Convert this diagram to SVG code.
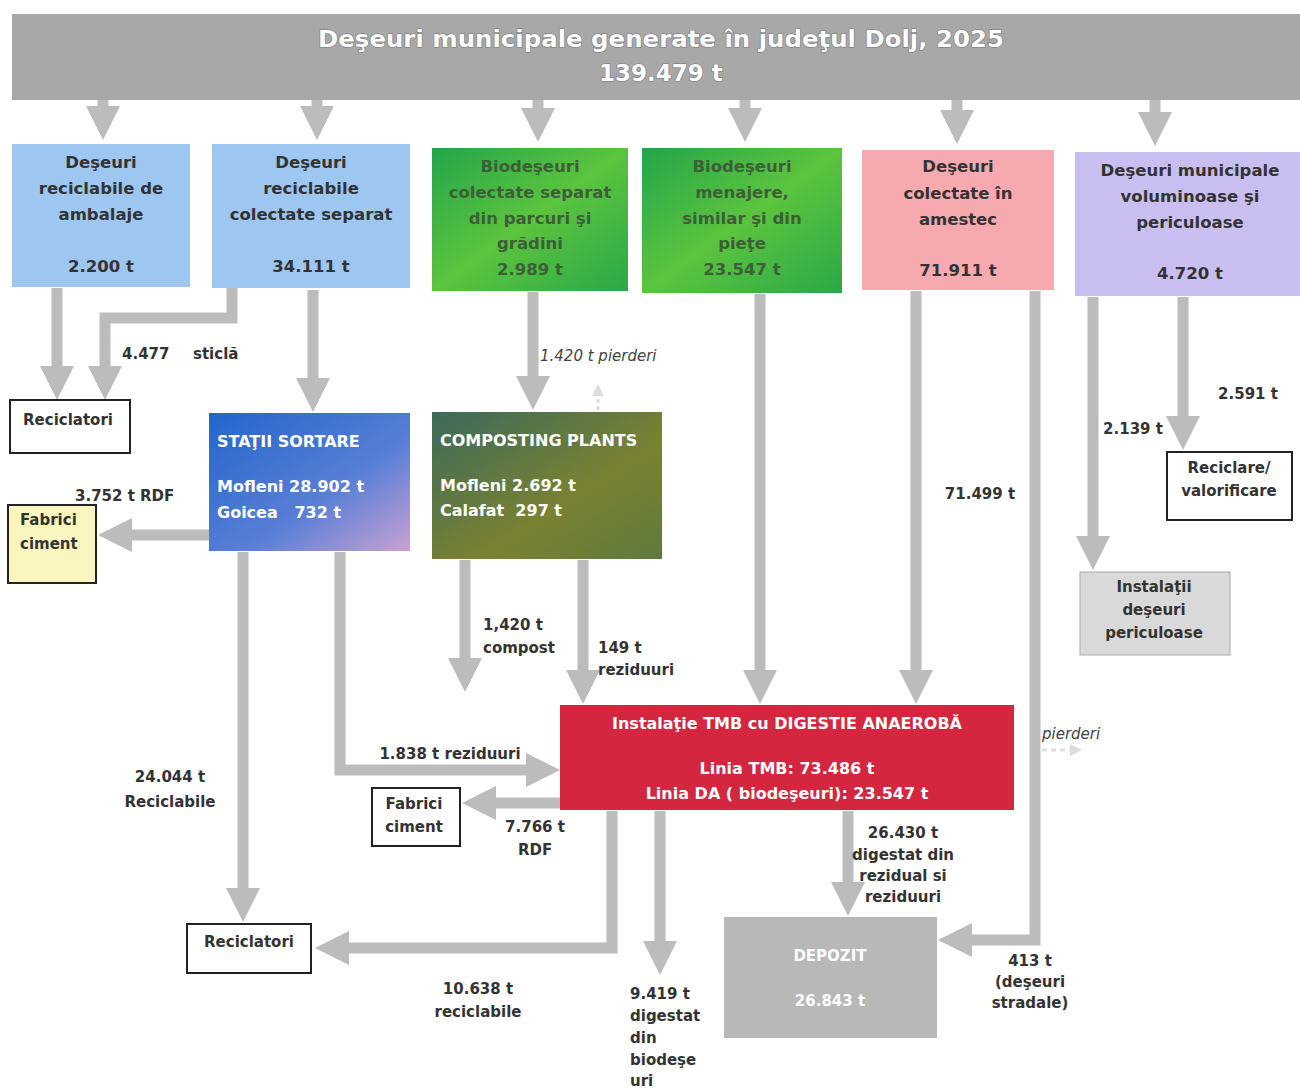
<svg xmlns="http://www.w3.org/2000/svg" width="1300" height="1092" viewBox="0 0 1300 1092">
<style>
text{font-family:"DejaVu Sans","Liberation Sans",sans-serif;font-weight:bold}
.bt{font-size:16.5px;fill:#333;text-anchor:middle}
.gt{font-size:16.5px;fill:#3d5f38;text-anchor:middle}
.lb{font-size:15px;fill:#333}
.wt{font-size:16px;fill:#fff}
.it{font-size:15px;fill:#444;font-style:italic;font-weight:normal}
.ar{fill:none;stroke:#bcbcbc;stroke-width:11;marker-end:url(#ah)}
.box{stroke:#222;stroke-width:2;fill:#fff}
.hd{font-size:23px;fill:#fff;stroke:#777;stroke-width:1.2;paint-order:stroke}
</style>
<defs>
<marker id="ah" markerUnits="userSpaceOnUse" markerWidth="34" markerHeight="34" viewBox="0 0 34 34" refX="10" refY="17" orient="auto">
<path d="M0,0 L34,17 L0,34 z" fill="#bcbcbc"/>
</marker>
<marker id="ahs" markerUnits="userSpaceOnUse" markerWidth="12" markerHeight="12" viewBox="0 0 12 12" refX="2" refY="6" orient="auto">
<path d="M0,0 L12,6 L0,12 z" fill="#ddd"/>
</marker>
<linearGradient id="g1" x1="0" y1="0" x2="1" y2="1"><stop offset="0" stop-color="#23a54a"/><stop offset="0.5" stop-color="#5cc43e"/><stop offset="1" stop-color="#2aa848"/></linearGradient>
<linearGradient id="gs" x1="0" y1="0" x2="1" y2="1"><stop offset="0" stop-color="#2266cc"/><stop offset="0.6" stop-color="#5a7fd6"/><stop offset="1" stop-color="#c9a2d2"/></linearGradient>
<linearGradient id="gc" x1="0" y1="0" x2="1" y2="1"><stop offset="0" stop-color="#3c6a5a"/><stop offset="0.6" stop-color="#7a8232"/><stop offset="1" stop-color="#5e7a3e"/></linearGradient>
</defs>

<g id="header">
<rect x="12" y="14" width="1288" height="86" fill="#a8a8a8"/>
<text class="hd" x="661" y="47" text-anchor="middle" textLength="686" lengthAdjust="spacingAndGlyphs">Deşeuri municipale generate în judeţul Dolj, 2025</text>
<text class="hd" x="661" y="81" text-anchor="middle">139.479  t</text>
</g>

<g id="connectors">
<path class="ar" d="M103,100 V116"/>
<path class="ar" d="M317,100 V116"/>
<path class="ar" d="M538,100 V118"/>
<path class="ar" d="M745,100 V118"/>
<path class="ar" d="M957,100 V120"/>
<path class="ar" d="M1155,100 V122"/>
<path class="ar" d="M57,288 V376"/>
<path class="ar" d="M232,288 V318 H105 V376"/>
<path class="ar" d="M313,290 V388"/>
<path class="ar" d="M209,535 H122"/>
<path class="ar" d="M243,552 V898"/>
<path class="ar" d="M340,552 V770 H536"/>
<path class="ar" d="M533,292 V386"/>
<path d="M598,410 V394" stroke="#ddd" stroke-width="3" stroke-dasharray="4,3" fill="none" marker-end="url(#ahs)"/>
<path class="ar" d="M465,560 V668"/>
<path class="ar" d="M583,560 V680"/>
<path class="ar" d="M760,294 V680"/>
<path class="ar" d="M916,291 V680"/>
<path class="ar" d="M1035,291 V940 H962"/>
<path d="M1042,750 H1072" stroke="#ddd" stroke-width="3" stroke-dasharray="5,4" fill="none" marker-end="url(#ahs)"/>
<path class="ar" d="M1093,297 V546"/>
<path class="ar" d="M1183,297 V426"/>
<path class="ar" d="M560,803 H486"/>
<path class="ar" d="M612,811 V948 H339"/>
<path class="ar" d="M660,811 V951"/>
<path class="ar" d="M848,811 V892"/>
</g>

<g id="n-ambalaje">
<rect x="12" y="144" width="178" height="143" fill="#9dc6f0"/>
<text class="bt" x="101" y="168">Deşeuri</text>
<text class="bt" x="101" y="194">reciclabile de</text>
<text class="bt" x="101" y="220">ambalaje</text>
<text class="bt" x="101" y="272">2.200 t</text>
</g>
<g id="n-reciclabile">
<rect x="212" y="144" width="198" height="144" fill="#9dc6f0"/>
<text class="bt" x="311" y="168">Deşeuri</text>
<text class="bt" x="311" y="194">reciclabile</text>
<text class="bt" x="311" y="220">colectate separat</text>
<text class="bt" x="311" y="272">34.111 t</text>
</g>
<g id="n-bio-parcuri">
<rect x="432" y="148" width="196" height="143" fill="url(#g1)"/>
<text class="gt" x="530" y="172">Biodeşeuri</text>
<text class="gt" x="530" y="198">colectate separat</text>
<text class="gt" x="530" y="224">din parcuri şi</text>
<text class="gt" x="530" y="249">grădini</text>
<text class="gt" x="530" y="275">2.989  t</text>
</g>
<g id="n-bio-menajere">
<rect x="642" y="148" width="200" height="145" fill="url(#g1)"/>
<text class="gt" x="742" y="172">Biodeşeuri</text>
<text class="gt" x="742" y="198">menajere,</text>
<text class="gt" x="742" y="224">similar şi din</text>
<text class="gt" x="742" y="249">pieţe</text>
<text class="gt" x="742" y="275">23.547  t</text>
</g>
<g id="n-amestec">
<rect x="862" y="150" width="192" height="140" fill="#f6a9ae"/>
<text class="bt" x="958" y="172">Deşeuri</text>
<text class="bt" x="958" y="199">colectate în</text>
<text class="bt" x="958" y="225">amestec</text>
<text class="bt" x="958" y="276">71.911 t</text>
</g>
<g id="n-voluminoase">
<rect x="1075" y="152" width="225" height="144" fill="#c8bff0"/>
<text class="bt" x="1190" y="176">Deşeuri municipale</text>
<text class="bt" x="1190" y="202">voluminoase şi</text>
<text class="bt" x="1190" y="228">periculoase</text>
<text class="bt" x="1190" y="279">4.720 t</text>
</g>

<g id="n-reciclatori1">
<rect class="box" x="10" y="400" width="120" height="53"/>
<text class="lb" x="68" y="425" text-anchor="middle">Reciclatori</text>
</g>
<g id="n-statii">
<rect x="209" y="413" width="201" height="138" fill="url(#gs)"/>
<text class="wt" x="217" y="447">STAŢII SORTARE</text>
<text class="wt" x="217" y="492">Mofleni 28.902 t</text>
<text class="wt" x="217" y="518" xml:space="preserve">Goicea   732 t</text>
</g>
<g id="n-fabrici1">
<rect x="8" y="505" width="88" height="78" fill="#fbf6c0" stroke="#222" stroke-width="2"/>
<text class="lb" x="20" y="525">Fabrici</text>
<text class="lb" x="20" y="549">ciment</text>
</g>
<g id="n-composting">
<rect x="432" y="412" width="230" height="147" fill="url(#gc)"/>
<text class="wt" x="440" y="446">COMPOSTING PLANTS</text>
<text class="wt" x="440" y="491">Mofleni 2.692 t</text>
<text class="wt" x="440" y="516" xml:space="preserve">Calafat  297 t</text>
</g>
<g id="n-reciclare">
<rect class="box" x="1167" y="452" width="125" height="68"/>
<text class="lb" x="1229" y="473" text-anchor="middle">Reciclare/</text>
<text class="lb" x="1229" y="496" text-anchor="middle">valorificare</text>
</g>
<g id="n-instalatii">
<rect x="1080" y="572" width="150" height="83" fill="#d9d9d9" stroke="#aaa" stroke-width="1"/>
<text class="lb" x="1154" y="592" text-anchor="middle">Instalaţii</text>
<text class="lb" x="1154" y="615" text-anchor="middle">deşeuri</text>
<text class="lb" x="1154" y="638" text-anchor="middle">periculoase</text>
</g>
<g id="n-tmb">
<rect x="560" y="705" width="454" height="105" fill="#d4263f"/>
<text class="wt" x="787" y="729" text-anchor="middle">Instalaţie TMB cu DIGESTIE ANAEROBĂ</text>
<text class="wt" x="787" y="774" text-anchor="middle">Linia TMB: 73.486 t</text>
<text class="wt" x="787" y="799" text-anchor="middle">Linia DA ( biodeşeuri): 23.547 t</text>
</g>
<g id="n-fabrici2">
<rect class="box" x="372" y="788" width="88" height="58"/>
<text class="lb" x="414" y="809" text-anchor="middle">Fabrici</text>
<text class="lb" x="414" y="832" text-anchor="middle">ciment</text>
</g>
<g id="n-reciclatori2">
<rect class="box" x="187" y="924" width="124" height="49"/>
<text class="lb" x="249" y="947" text-anchor="middle">Reciclatori</text>
</g>
<g id="n-depozit">
<rect x="724" y="917" width="213" height="121" fill="#b8b8b8"/>
<text class="wt" x="830" y="961" text-anchor="middle" style="font-size:15px">DEPOZIT</text>
<text class="wt" x="830" y="1006" text-anchor="middle" style="font-size:15px">26.843 t</text>
</g>

<g id="labels">
<text class="lb" x="122" y="359">4.477</text>
<text class="lb" x="193" y="359">sticlă</text>
<text class="lb" x="75" y="501">3.752 t RDF</text>
<text class="it" x="540" y="361">1.420 t pierderi</text>
<text class="lb" x="483" y="630">1,420 t</text>
<text class="lb" x="483" y="653">compost</text>
<text class="lb" x="598" y="653">149 t</text>
<text class="lb" x="598" y="675">reziduuri</text>
<text class="lb" x="980" y="499" text-anchor="middle">71.499 t</text>
<text class="lb" x="1133" y="434" text-anchor="middle">2.139 t</text>
<text class="lb" x="1248" y="399" text-anchor="middle">2.591 t</text>
<text class="it" x="1042" y="739">pierderi</text>
<text class="lb" x="170" y="782" text-anchor="middle">24.044  t</text>
<text class="lb" x="170" y="807" text-anchor="middle">Reciclabile</text>
<text class="lb" x="450" y="759" text-anchor="middle">1.838 t reziduuri</text>
<text class="lb" x="535" y="832" text-anchor="middle">7.766 t</text>
<text class="lb" x="535" y="855" text-anchor="middle">RDF</text>
<text class="lb" x="903" y="838" text-anchor="middle">26.430 t</text>
<text class="lb" x="903" y="860" text-anchor="middle">digestat din</text>
<text class="lb" x="903" y="881" text-anchor="middle">rezidual si</text>
<text class="lb" x="903" y="902" text-anchor="middle">reziduuri</text>
<text class="lb" x="478" y="994" text-anchor="middle">10.638 t</text>
<text class="lb" x="478" y="1017" text-anchor="middle">reciclabile</text>
<text class="lb" x="630" y="999">9.419 t</text>
<text class="lb" x="630" y="1021">digestat</text>
<text class="lb" x="630" y="1043">din</text>
<text class="lb" x="630" y="1065">biodeşe</text>
<text class="lb" x="630" y="1086">uri</text>
<text class="lb" x="1030" y="966" text-anchor="middle">413 t</text>
<text class="lb" x="1030" y="987" text-anchor="middle">(deşeuri</text>
<text class="lb" x="1030" y="1008" text-anchor="middle">stradale)</text>
</g>
</svg>
